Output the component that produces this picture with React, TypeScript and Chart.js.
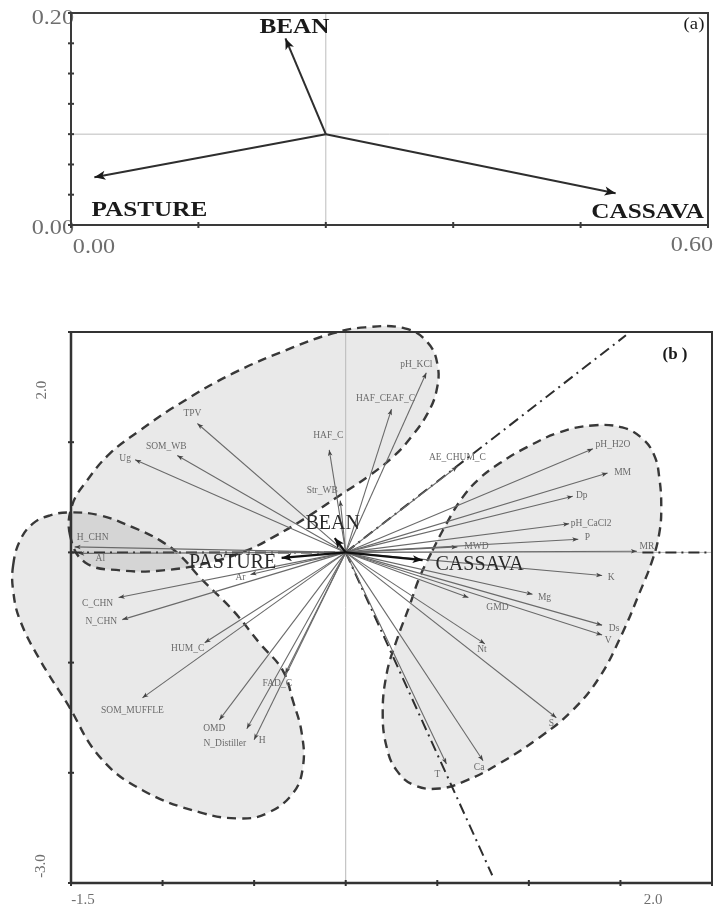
import React, { useEffect, useRef } from 'react';
import { Chart, registerables } from 'chart.js';

Chart.register(...registerables);

// ---------------- Panel (a) data ----------------
const aSpecies = ['BEAN', 'PASTURE', 'CASSAVA'];
const aSpeciesX = [0.202, 0.022, 0.513];
const aSpeciesY = [0.176, 0.045, 0.03];
const aOriginX = 0.24;
const aOriginY = 0.0857;
const aXTicks = [0, 0.12, 0.24, 0.36, 0.48, 0.6];
const aYTicks = [0, 0.0286, 0.0571, 0.0857, 0.1143, 0.1429, 0.1714, 0.2];
const aXTickLabels = ['0.00', '0.60'];
const aXTickValues = [0, 0.6];
const aYTickLabels = ['0.00', '0.20'];
const aYTickValues = [0, 0.2];

// ---------------- Panel (b) data ----------------
const bSpecies = ['BEAN', 'PASTURE', 'CASSAVA'];
const bSpeciesX = [-0.06, -0.35, 0.42];
const bSpeciesY = [0.13, -0.05, -0.07];

const bVariables = ['TPV', 'SOM_WB', 'Ug', 'HAF_C', 'Str_WB', 'HAF_CEAF_C', 'pH_KCl', 'AE_CHUM_C', 'pH_H2O', 'MM',
  'Dp', 'pH_CaCl2', 'P', 'MWD', 'MR', 'K', 'Mg', 'GMD', 'Ds', 'V',
  'Nt', 'S', 'Ca', 'T', 'H_CHN', 'Al', 'Ar', 'C_CHN', 'N_CHN', 'HUM_C',
  'SOM_MUFFLE', 'FAD_C', 'OMD', 'N_Distiller', 'H'];
const bVarX = [-0.81, -0.92, -1.15, -0.09, -0.03, 0.25, 0.44, 0.61, 1.35, 1.43,
  1.24, 1.22, 1.27, 0.61, 1.59, 1.40, 1.02, 0.67, 1.40, 1.40,
  0.76, 1.15, 0.75, 0.55, -1.48, -1.46, -0.52, -1.24, -1.22, -0.77,
  -1.11, -0.33, -0.69, -0.54, -0.50];
const bVarY = [1.17, 0.88, 0.84, 0.93, 0.47, 1.30, 1.63, 0.78, 0.94, 0.72,
  0.51, 0.26, 0.12, 0.05, 0.01, -0.21, -0.38, -0.41, -0.66, -0.75,
  -0.83, -1.50, -1.89, -1.92, 0.05, -0.01, -0.20, -0.41, -0.61, -0.82,
  -1.32, -1.10, -1.52, -1.60, -1.70];

// group outlines (dashed envelopes)
const beanGroupX = [-1.505, -1.494, -1.412, -1.287, -1.123, -0.905, -0.616, -0.289, -0.071, 0.104, 0.322, 0.447, 0.502,
  0.496, 0.447, 0.365, 0.267, 0.131, -0.033, -0.213, -0.398, -0.540, -0.742, -0.998, -1.232, -1.423];
const beanGroupY = [0.154, 0.426, 0.653, 0.898, 1.107, 1.352, 1.624, 1.860, 1.987, 2.042, 2.033, 1.906, 1.697,
  1.470, 1.261, 1.062, 0.880, 0.699, 0.517, 0.318, 0.136, 0.018, -0.091, -0.163, -0.163, -0.091];
const pastureGroupX = [-1.816, -1.778, -1.707, -1.614, -1.505, -1.341, -1.161, -1.014, -0.905, -0.796, -0.616, -0.469, -0.344,
  -0.289, -0.240, -0.234, -0.289, -0.431, -0.578, -0.796, -1.107, -1.341, -1.521, -1.668, -1.778, -1.816];
const pastureGroupY = [-0.118, 0.109, 0.263, 0.336, 0.363, 0.336, 0.227, 0.109, -0.027, -0.227, -0.526, -0.826, -1.071,
  -1.343, -1.642, -1.951, -2.187, -2.368, -2.414, -2.359, -2.160, -1.860, -1.370, -0.980, -0.617, -0.345];
const cassavaGroupX = [0.474, 0.551, 0.638, 0.731, 0.840, 0.987, 1.167, 1.347, 1.510, 1.619, 1.685, 1.712, 1.723, 1.712,
  1.674, 1.603, 1.510, 1.385, 1.238, 1.058, 0.840, 0.660, 0.513, 0.376, 0.278, 0.224, 0.202, 0.224, 0.278, 0.349, 0.403];
const cassavaGroupY = [0.018, 0.263, 0.499, 0.672, 0.808, 0.953, 1.089, 1.152, 1.134, 1.034, 0.880, 0.681, 0.408, 0.172,
  -0.073, -0.372, -0.735, -1.134, -1.434, -1.679, -1.915, -2.069, -2.142, -2.114, -1.978, -1.770, -1.461, -1.098, -0.799, -0.481, -0.227];

// dash-dot dividers
const dividerUpX = [0, 1.53];
const dividerUpY = [0, 1.97];
const dividerDownX = [0, 0.80];
const dividerDownY = [0, -2.93];
const dividerLeftX = [-1.5, 0];
const dividerLeftY = [0, 0];
const dividerRightX = [1.62, 2.0];
const dividerRightY = [0, 0];

const bXTicks = [-1.5, -1, -0.5, 0, 0.5, 1, 1.5, 2];
const bYTicks = [-3, -2, -1, 0, 1, 2];
const bXTickLabels = ['-1.5', '2.0'];
const bXTickValues = [-1.5, 2.0];
const bYTickLabels = ['2.0', '-3.0'];
const bYTickValues = [2, -3];

// ---------------- layout / style (not data) ----------------
const SERIF = '"Liberation Serif", "DejaVu Serif", serif';

const aSpeciesOffset: Record<string, [number, number]> = {
  BEAN: [9, -11], PASTURE: [55, 33], CASSAVA: [32, 19],
};
const bSpeciesOffset: Record<string, [number, number]> = {
  BEAN: [-2, -14], PASTURE: [-49, 5], CASSAVA: [57, 5],
};
const bVarOffset: Record<string, [number, number]> = {
  TPV: [-5, -10], SOM_WB: [-11, -9], Ug: [-10, -1], HAF_C: [-1, -14], Str_WB: [-18, -10],
  HAF_CEAF_C: [-6, -11], pH_KCl: [-10, -8], AE_CHUM_C: [0, -9], pH_H2O: [20, -4], MM: [15, -1],
  Dp: [9, -1], pH_CaCl2: [22, 0], P: [9, -2], MWD: [19, 0], MR: [10, -5], K: [9, 2], Mg: [12, 3],
  GMD: [29, 10], Ds: [12, 3], V: [6, 5], Nt: [-3, 6], S: [-5, 6], Ca: [-4, 7], T: [-9, 11],
  H_CHN: [18, -9], Al: [22, 5], Ar: [-10, 3], C_CHN: [-21, 6], N_CHN: [-21, 2], HUM_C: [-17, 6],
  SOM_MUFFLE: [-10, 13], FAD_C: [-8, 10], OMD: [-5, 9], N_Distiller: [-22, 15], H: [8, 1],
};

function pts(xs: number[], ys: number[]) {
  return xs.map((x, i) => ({ x, y: ys[i] }));
}

function seg(data: { x: number; y: number }[], extra: any) {
  return { data, pointRadius: 0, pointHoverRadius: 0, fill: false, tension: 0, ...extra };
}

function drawText(ctx: CanvasRenderingContext2D, text: string, x: number, y: number, font: string, color: string,
  stretch = 1, rot = 0, align: CanvasTextAlign = 'center') {
  ctx.save();
  ctx.translate(x, y);
  if (rot) ctx.rotate(rot);
  ctx.scale(stretch, 1);
  ctx.font = font;
  ctx.fillStyle = color;
  ctx.textAlign = align;
  ctx.textBaseline = 'middle';
  ctx.fillText(text, 0, 0);
  ctx.restore();
}

function drawHead(ctx: CanvasRenderingContext2D, x0: number, y0: number, x1: number, y1: number, h: any) {
  const a = Math.atan2(y1 - y0, x1 - x0);
  ctx.save();
  ctx.translate(x1, y1);
  ctx.rotate(a);
  ctx.beginPath();
  ctx.moveTo(0, 0);
  ctx.lineTo(-h.len, h.half);
  ctx.lineTo(-h.len * 0.75, 0);
  ctx.lineTo(-h.len, -h.half);
  ctx.closePath();
  ctx.fillStyle = h.color;
  ctx.fill();
  ctx.restore();
}

function makeDecor(cfg: any) {
  return {
    id: 'decor',
    afterDatasetUpdate(chart: any, args: any) {
      const ds: any = chart.data.datasets[args.index];
      if (ds && ds.closed && args.meta.dataset) {
        args.meta.dataset._loop = true;
        args.meta.dataset._fullLoop = true;
      }
    },
    beforeDatasetsDraw(chart: any) {
      const ctx = chart.ctx;
      chart.data.datasets.forEach((ds: any, i: number) => {
        if (!ds.groupFill) return;
        const meta = chart.getDatasetMeta(i);
        const el: any = meta.dataset;
        if (!el) return;
        el.updateControlPoints(chart.chartArea, 'x');
        ctx.save();
        ctx.beginPath();
        el.path(ctx);
        ctx.closePath();
        ctx.fillStyle = ds.groupFill;
        ctx.fill();
        ctx.restore();
      });
    },
    afterDatasetsDraw(chart: any) {
      const ctx: CanvasRenderingContext2D = chart.ctx;
      const area = chart.chartArea;
      const xs = chart.scales.x;
      const ys = chart.scales.y;
      // arrow heads and tags
      chart.data.datasets.forEach((ds: any, i: number) => {
        const meta = chart.getDatasetMeta(i);
        const n = meta.data.length;
        if (n < 2) return;
        const p0: any = meta.data[n - 2];
        const p1: any = meta.data[n - 1];
        if (ds.head) drawHead(ctx, p0.x, p0.y, p1.x, p1.y, ds.head);
        if (ds.tag) drawText(ctx, ds.tag, p1.x + ds.tagDx, p1.y + ds.tagDy, ds.tagFont, ds.tagColor, ds.tagStretch || 1);
      });
      // tick labels
      cfg.xLabels.forEach((l: any) => {
        drawText(ctx, l.text, xs.getPixelForValue(l.value) + l.dx, area.bottom + l.dy, cfg.tickFont, cfg.tickColor, cfg.tickStretch);
      });
      cfg.yLabels.forEach((l: any) => {
        if (l.rotate) {
          drawText(ctx, l.text, l.x, ys.getPixelForValue(l.value) + l.dy, cfg.tickFont, cfg.tickColor, 1, -Math.PI / 2);
        } else {
          drawText(ctx, l.text, area.left + l.dx, ys.getPixelForValue(l.value) + l.dy, cfg.tickFont, cfg.tickColor, cfg.tickStretch, 0, 'right');
        }
      });
      // frame
      ctx.save();
      ctx.strokeStyle = cfg.frameColor;
      const fw = cfg.frameWidths; // top right bottom left
      const line = (x0: number, y0: number, x1: number, y1: number, w: number) => {
        ctx.lineWidth = w;
        ctx.beginPath();
        ctx.moveTo(x0, y0);
        ctx.lineTo(x1, y1);
        ctx.stroke();
      };
      line(area.left - 1, area.top, area.right + 1, area.top, fw[0]);
      line(area.right, area.top, area.right, area.bottom, fw[1]);
      line(area.left - 1, area.bottom, area.right + 1, area.bottom, fw[2]);
      line(area.left, area.top, area.left, area.bottom + 1, fw[3]);
      // ticks
      cfg.xTicks.forEach((v: number) => {
        const px = xs.getPixelForValue(v);
        line(px, area.bottom - cfg.tickLen, px, area.bottom + cfg.tickLen, 2);
      });
      cfg.yTicks.forEach((v: number) => {
        const py = ys.getPixelForValue(v);
        line(area.left - cfg.tickLen, py, area.left + cfg.tickLen, py, 2);
      });
      ctx.restore();
      // panel mark
      drawText(ctx, cfg.mark.text, area.right + cfg.mark.dx, area.top + cfg.mark.dy, cfg.mark.font, '#1a1a1a', cfg.mark.stretch || 1);
    },
  };
}

function baseOptions(xmin: number, xmax: number, ymin: number, ymax: number, padding: any) {
  return {
    responsive: false,
    maintainAspectRatio: false,
    animation: false,
    devicePixelRatio: 1,
    events: [],
    layout: { padding },
    plugins: { legend: { display: false }, tooltip: { enabled: false }, title: { display: false } },
    scales: {
      x: { type: 'linear', min: xmin, max: xmax, display: false },
      y: { type: 'linear', min: ymin, max: ymax, display: false },
    },
  };
}

function configA(): any {
  const datasets: any[] = [
    seg([{ x: 0, y: aOriginY }, { x: 0.6, y: aOriginY }], { borderColor: '#bdbdbd', borderWidth: 1, order: 9 }),
    seg([{ x: aOriginX, y: 0 }, { x: aOriginX, y: 0.2 }], { borderColor: '#bdbdbd', borderWidth: 1, order: 9 }),
    ...aSpecies.map((name, i) => seg([{ x: aOriginX, y: aOriginY }, { x: aSpeciesX[i], y: aSpeciesY[i] }], {
      borderColor: '#2e2e2e', borderWidth: 2, order: 1,
      head: { len: 11, half: 4.5, color: '#1a1a1a' },
      tag: name, tagDx: aSpeciesOffset[name][0], tagDy: aSpeciesOffset[name][1],
      tagFont: `bold 21px ${SERIF}`, tagColor: '#1a1a1a', tagStretch: 1.2,
    })),
  ];
  const decor = makeDecor({
    xTicks: aXTicks, yTicks: aYTicks, tickLen: 3,
    xLabels: [
      { text: aXTickLabels[0], value: aXTickValues[0], dx: 23, dy: 22 },
      { text: aXTickLabels[1], value: aXTickValues[1], dx: -16, dy: 20 },
    ],
    yLabels: [
      { text: aYTickLabels[0], value: aYTickValues[0], dx: 3, dy: 3 },
      { text: aYTickLabels[1], value: aYTickValues[1], dx: 3, dy: 5 },
    ],
    tickFont: `21px ${SERIF}`, tickColor: '#6e6e6e', tickStretch: 1.15,
    frameColor: '#3a3a3a', frameWidths: [2, 2, 2, 2],
    mark: { text: '(a)', dx: -14, dy: 12, font: `17px ${SERIF}`, stretch: 1.1 },
  });
  return {
    type: 'line',
    data: { datasets },
    options: baseOptions(0, 0.6, 0, 0.2, { left: 71, top: 13, right: 7, bottom: 35 }),
    plugins: [decor],
  };
}

function configB(): any {
  const groupStyle = {
    borderColor: '#383838', borderWidth: 2.4, borderDash: [9, 6], tension: 0.42,
    capBezierPoints: false, clip: false, order: 10, closed: true, groupFill: 'rgba(0,0,0,0.085)',
  };
  const divStyle = { borderColor: '#2e2e2e', borderWidth: 2, borderDash: [11, 5, 2, 5], order: 7 };
  const datasets: any[] = [
    seg(pts(beanGroupX, beanGroupY), groupStyle),
    seg(pts(pastureGroupX, pastureGroupY), groupStyle),
    seg(pts(cassavaGroupX, cassavaGroupY), groupStyle),
    seg([{ x: -1.5, y: 0 }, { x: 2, y: 0 }], { borderColor: '#b8b8b8', borderWidth: 1, order: 9 }),
    seg([{ x: 0, y: -3 }, { x: 0, y: 2 }], { borderColor: '#b8b8b8', borderWidth: 1, order: 9 }),
    seg(pts(dividerUpX, dividerUpY), divStyle),
    seg(pts(dividerDownX, dividerDownY), divStyle),
    seg(pts(dividerLeftX, dividerLeftY), divStyle),
    seg(pts(dividerRightX, dividerRightY), divStyle),
    ...bVariables.map((name, i) => seg([{ x: 0, y: 0 }, { x: bVarX[i], y: bVarY[i] }], {
      borderColor: '#6a6a6a', borderWidth: 1.1, order: 5,
      head: { len: 6, half: 2.3, color: '#444' },
      tag: name, tagDx: bVarOffset[name][0], tagDy: bVarOffset[name][1],
      tagFont: `9.5px ${SERIF}`, tagColor: '#6a6a6a',
    })),
    ...bSpecies.map((name, i) => seg([{ x: 0, y: 0 }, { x: bSpeciesX[i], y: bSpeciesY[i] }], {
      borderColor: '#111', borderWidth: 2.2, order: 1,
      head: { len: 10, half: 4, color: '#111' },
      tag: name, tagDx: bSpeciesOffset[name][0], tagDy: bSpeciesOffset[name][1],
      tagFont: `20px ${SERIF}`, tagColor: '#2a2a2a',
    })),
  ];
  const decor = makeDecor({
    xTicks: bXTicks, yTicks: bYTicks, tickLen: 3,
    xLabels: [
      { text: bXTickLabels[0], value: bXTickValues[0], dx: 12, dy: 17 },
      { text: bXTickLabels[1], value: bXTickValues[1], dx: -59, dy: 17 },
    ],
    yLabels: [
      { text: bYTickLabels[0], value: bYTickValues[0], x: 42, dy: 58, rotate: true },
      { text: bYTickLabels[1], value: bYTickValues[1], x: 41, dy: -17, rotate: true },
    ],
    tickFont: `15px ${SERIF}`, tickColor: '#6e6e6e', tickStretch: 1,
    frameColor: '#333', frameWidths: [2, 2, 2.5, 2.5],
    mark: { text: '(b )', dx: -37, dy: 23, font: `bold 17px ${SERIF}` },
  });
  return {
    type: 'line',
    data: { datasets },
    options: baseOptions(-1.5, 2.0, -3, 2, { left: 71, top: 72, right: 3, bottom: 25 }),
    plugins: [decor],
  };
}

function Panel({ top, height, build }: { top: number; height: number; build: () => any }) {
  const ref = useRef<HTMLCanvasElement>(null);
  useEffect(() => {
    if (!ref.current) return;
    const chart = new Chart(ref.current, build());
    return () => chart.destroy();
  }, []);
  return (
    <canvas
      ref={ref}
      width={715}
      height={height}
      style={{ position: 'absolute', left: 0, top, width: 715, height, display: 'block' }}
    />
  );
}

export default function App() {
  return (
    <div style={{ position: 'absolute', left: 0, top: 0, width: 715, height: 908, background: '#fff', overflow: 'hidden' }}>
      <Panel top={0} height={260} build={configA} />
      <Panel top={260} height={648} build={configB} />
    </div>
  );
}
